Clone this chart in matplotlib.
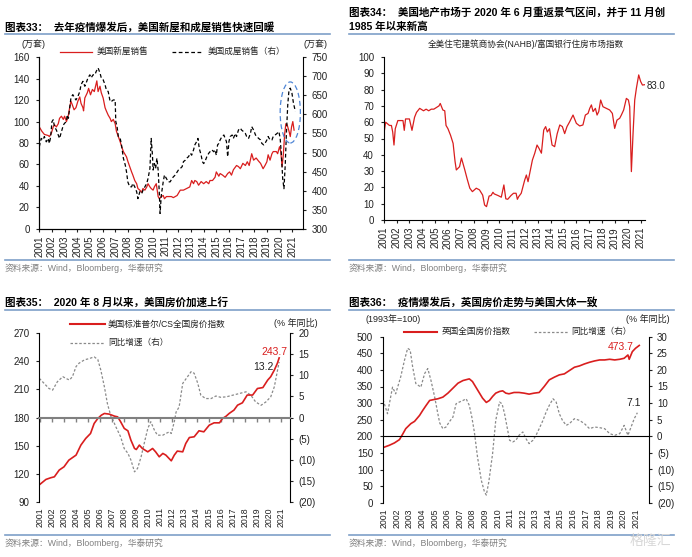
import numpy as np
import matplotlib
matplotlib.use('Agg')
import matplotlib.pyplot as plt
from matplotlib.patches import Ellipse
from matplotlib.lines import Line2D
from matplotlib.ticker import FuncFormatter

plt.rcParams['font.family'] = ['Liberation Sans', 'Noto Sans CJK SC', 'DejaVu Sans']

W, H = 692, 557
RED = '#D91E1E'
GREY = '#8A8A8A'
TXT = '#222222'
BLUE_LINE = '#7E9FC8'

years = list(range(2001, 2022))

# ---- chart 33: US new / existing home sales (万套) ----
nh_x = [2001.0, 2001.2, 2001.4, 2001.7, 2001.8, 2001.95, 2002.1, 2002.2, 2002.35, 2002.5, 2002.6,
        2002.75, 2002.9, 2003.0, 2003.15, 2003.3, 2003.4, 2003.5, 2003.6, 2003.75, 2003.9, 2004.05,
        2004.2, 2004.3, 2004.45, 2004.5, 2004.6, 2004.8, 2004.9, 2005.05, 2005.2, 2005.35, 2005.45,
        2005.55, 2005.65, 2005.8, 2005.9, 2006.05, 2006.2, 2006.3, 2006.45, 2006.6, 2006.7, 2006.85,
        2007.0, 2007.1, 2007.25, 2007.4, 2007.5, 2007.65, 2007.8, 2007.9, 2008.0, 2008.15, 2008.3,
        2008.4, 2008.55, 2008.7, 2008.8, 2008.95, 2009.1, 2009.2, 2009.35, 2009.5, 2009.6, 2009.75,
        2009.85, 2010.0, 2010.1, 2010.25, 2010.4, 2010.5, 2010.65, 2010.8, 2010.9, 2011.05, 2011.2,
        2011.45, 2011.6, 2011.9, 2012.15, 2012.4, 2012.65, 2012.9, 2013.05, 2013.2, 2013.3, 2013.45,
        2013.6, 2013.8, 2014.0, 2014.2, 2014.4, 2014.5, 2014.7, 2014.9, 2015.0, 2015.2, 2015.3,
        2015.5, 2015.7, 2015.9, 2016.05, 2016.2, 2016.35, 2016.6, 2016.75, 2016.9, 2017.1, 2017.3,
        2017.45, 2017.6, 2017.8, 2017.95, 2018.15, 2018.35, 2018.5, 2018.7, 2018.85, 2019.0, 2019.1,
        2019.25, 2019.4, 2019.5, 2019.75, 2019.85, 2020.0, 2020.1, 2020.2, 2020.3, 2020.4, 2020.5,
        2020.6, 2020.75, 2020.85, 2020.95, 2021.05, 2021.15]
nh_y = [95, 91, 88, 87, 86, 89, 95, 97, 95, 98, 103, 105, 102, 105, 100, 106, 113, 119, 116, 111,
        113, 119, 123, 117, 113, 110, 122, 127, 131, 125, 130, 128, 133, 138, 128, 133, 127, 122,
        113, 110, 106, 103, 100, 102, 98, 91, 86, 81, 77, 72, 69, 67, 63, 58, 53, 50, 45, 42, 37.5,
        36, 34, 37.5, 36, 39, 42, 39, 37.5, 36, 39, 42, 30, 28, 30, 31, 28, 30, 30, 30, 29, 31, 36,
        36, 37.5, 39, 45, 42, 45, 44, 40.6, 44, 42, 44, 42, 45, 45, 48, 53, 49, 51.5, 50, 48, 51.5,
        53, 50, 55, 59, 58, 56, 61, 59, 62.5, 59, 70, 64, 66, 63, 61, 56, 59, 62.5, 69, 64, 70, 72,
        72, 70, 76.5, 72, 58, 69, 87.5, 98, 97, 91, 86, 95, 100, 92]

eh_x = [2001.0, 2001.15, 2001.3, 2001.4, 2001.55, 2001.7, 2001.8, 2001.9, 2002.0, 2002.1, 2002.2,
        2002.35, 2002.5, 2002.6, 2002.75, 2002.9, 2003.0, 2003.15, 2003.2, 2003.3, 2003.4, 2003.5,
        2003.65, 2003.8, 2003.9, 2004.05, 2004.2, 2004.3, 2004.45, 2004.6, 2004.7, 2004.85, 2005.0,
        2005.1, 2005.25, 2005.4, 2005.5, 2005.65, 2005.8, 2005.9, 2006.05, 2006.2, 2006.3, 2006.45,
        2006.6, 2006.7, 2006.85, 2007.0, 2007.05, 2007.15, 2007.25, 2007.4, 2007.5, 2007.65, 2007.8,
        2007.9, 2008.0, 2008.15, 2008.3, 2008.4, 2008.55, 2008.7, 2008.8, 2008.95, 2009.1, 2009.2,
        2009.35, 2009.5, 2009.6, 2009.75, 2009.85, 2009.95, 2010.0, 2010.1, 2010.2, 2010.3, 2010.4,
        2010.5, 2010.55, 2010.65, 2010.8, 2010.9, 2011.05, 2011.2, 2011.35, 2011.5, 2011.6, 2011.75,
        2011.9, 2012.0, 2012.15, 2012.3, 2012.4, 2012.55, 2012.65, 2012.8, 2012.95, 2013.05, 2013.2,
        2013.3, 2013.45, 2013.55, 2013.65, 2013.8, 2013.9, 2014.0, 2014.1, 2014.25, 2014.4, 2014.5,
        2014.65, 2014.8, 2014.9, 2015.0, 2015.1, 2015.2, 2015.3, 2015.45, 2015.6, 2015.7, 2015.8,
        2015.9, 2016.0, 2016.1, 2016.25, 2016.35, 2016.5, 2016.6, 2016.75, 2016.9, 2017.0, 2017.15,
        2017.3, 2017.4, 2017.55, 2017.7, 2017.8, 2017.95, 2018.1, 2018.2, 2018.35, 2018.5, 2018.6,
        2018.75, 2018.85, 2019.0, 2019.1, 2019.25, 2019.4, 2019.5, 2019.65, 2019.8, 2019.95, 2020.05,
        2020.15, 2020.25, 2020.35, 2020.45, 2020.55, 2020.65, 2020.75, 2020.85, 2020.98, 2021.1,
        2021.25]
eh_y = [515, 537, 533, 542, 528, 537, 524, 542, 581, 586, 568, 559, 546, 537, 555, 572, 577, 581,
        599, 590, 616, 643, 652, 643, 638, 647, 660, 678, 687, 674, 682, 696, 704, 696, 704, 704,
        713, 722, 709, 696, 691, 678, 665, 660, 634, 634, 638, 638, 581, 568, 542, 537, 520, 485,
        467, 449, 423, 410, 410, 419, 410, 397, 379, 397, 392, 401, 410, 419, 432, 458, 537, 493,
        454, 471, 458, 485, 454, 388, 340, 388, 423, 441, 432, 423, 423, 432, 436, 441, 449, 454,
        458, 463, 476, 480, 485, 489, 498, 493, 507, 520, 529, 537, 511, 493, 476, 471, 476, 489,
        498, 502, 507, 502, 507, 493, 520, 524, 533, 542, 546, 537, 529, 489, 529, 542, 546, 537,
        550, 542, 559, 564, 559, 555, 550, 542, 537, 550, 568, 559, 546, 542, 537, 533, 524, 520,
        524, 533, 542, 533, 533, 542, 546, 550, 555, 537, 493, 432, 405, 467, 555, 625, 665, 669,
        656, 630, 608]

# ---- chart 34: NAHB housing market index ----
nahb_x = [2001.0, 2001.15, 2001.3, 2001.45, 2001.6, 2001.7, 2001.8, 2001.9, 2002.1, 2002.3, 2002.5,
          2002.6, 2002.7, 2002.85, 2003.0, 2003.2, 2003.4, 2003.55, 2003.7, 2003.8, 2004.1, 2004.3,
          2004.5, 2004.7, 2004.9, 2005.1, 2005.3, 2005.4, 2005.6, 2005.75, 2005.85, 2006.0, 2006.2,
          2006.4, 2006.55, 2006.65, 2006.9, 2007.05, 2007.3, 2007.5, 2007.7, 2007.9, 2008.2, 2008.45,
          2008.7, 2008.85, 2009.0, 2009.2, 2009.35, 2009.5, 2009.6, 2009.9, 2010.15, 2010.35, 2010.5,
          2010.65, 2010.9, 2011.1, 2011.3, 2011.4, 2011.5, 2011.7, 2011.97, 2012.1, 2012.23, 2012.36,
          2012.57, 2012.75, 2012.93, 2013.08, 2013.27, 2013.45, 2013.6, 2013.73, 2013.9, 2014.1,
          2014.3, 2014.5, 2014.7, 2014.9, 2015.08, 2015.26, 2015.47, 2015.73, 2015.99, 2016.25,
          2016.5, 2016.69, 2016.9, 2017.03, 2017.16, 2017.29, 2017.47, 2017.6, 2017.73, 2017.88,
          2018.06, 2018.32, 2018.58, 2018.79, 2018.97, 2019.15, 2019.36, 2019.49, 2019.67, 2019.88,
          2020.04, 2020.14, 2020.27, 2020.4, 2020.53, 2020.66, 2020.84, 2020.99, 2021.13, 2021.3]
nahb_y = [52, 60, 59, 58, 58, 54, 46, 56, 61, 61, 61, 55, 62, 62, 62, 55, 63, 66, 67.5, 68.5, 67,
          68, 67, 68, 68, 69, 70, 71.5, 67.5, 67, 58, 56, 52, 47, 36, 30.7, 32.7, 38, 31, 25, 19.5,
          17.4, 19.5, 18.5, 15.3, 9.2, 8.2, 14.7, 15, 17, 16, 15, 14, 21.5, 13, 12.7, 15, 16.4, 16.4,
          12.7, 14.3, 16.4, 24.5, 27.6, 23.5, 28.6, 36.8, 40.9, 46, 44, 41, 55.2, 57.3, 54, 56, 46,
          45, 53, 58.3, 57.3, 53, 57.3, 60.3, 64.4, 59.3, 57.7, 58.3, 64.4, 65.4, 68.5, 70.6, 66.5,
          68.5, 64.4, 66.5, 73.6, 69.5, 68.5, 67.5, 65.4, 56.2, 61.3, 62.4, 64.4, 67.5, 74.6, 73.6,
          69.5, 29.7, 53, 73.6, 80.8, 89, 85, 82.8, 83]

# ---- chart 35: S&P/Case-Shiller national index and YoY ----
cs_x = [2000.95, 2001.5, 2001.9, 2002.2, 2002.6, 2003.0, 2003.4, 2004.0, 2004.4, 2004.8, 2005.2,
        2005.5, 2005.8, 2006.1, 2006.35, 2006.75, 2007.2, 2007.45, 2007.7, 2008.0, 2008.3, 2008.55,
        2008.85, 2009.0, 2009.25, 2009.5, 2009.95, 2010.35, 2010.6, 2010.9, 2011.2, 2011.45, 2011.9,
        2012.15, 2012.4, 2012.85, 2013.1, 2013.4, 2013.8, 2014.2, 2014.6, 2015.05, 2015.45, 2015.9,
        2016.15, 2016.45, 2016.7, 2017.1, 2017.4, 2017.8, 2018.2, 2018.65, 2019.05, 2019.5, 2019.9,
        2020.15, 2020.45, 2020.7, 2020.85]
cs_y = [108, 113.8, 115.6, 116.6, 123.8, 127.3, 134.4, 139.8, 150.5, 157.6, 162.9, 173.6, 178.9,
        182.5, 184.3, 183.6, 181.4, 180.7, 175.4, 168.3, 165.8, 155.8, 146.9, 145.8, 150.5, 146.9,
        143.3, 146.9, 143.3, 138, 141.6, 139.8, 133.7, 139.8, 144.1, 143.3, 152.2, 158.6, 159.4,
        165.8, 164.7, 171.8, 174.3, 174.3, 178.9, 181.4, 184.3, 187.9, 193.2, 195.7, 204, 204, 211,
        212, 220, 223.6, 230.7, 237.9, 243.7]
cs_yoy_x = [2000.95, 2001.35, 2001.75, 2002.05, 2002.45, 2002.9, 2003.15, 2003.45, 2003.7, 2004.0,
            2004.25, 2004.7, 2005.1, 2005.5, 2005.8, 2006.05, 2006.35, 2006.6, 2006.9, 2007.0,
            2007.3, 2007.7, 2008.0, 2008.3, 2008.55, 2008.85, 2009.1, 2009.4, 2009.65, 2009.95,
            2010.2, 2010.5, 2010.75, 2011.2, 2011.45, 2011.75, 2011.9, 2012.15, 2012.3, 2012.55,
            2012.85, 2013.25, 2013.55, 2013.8, 2014.1, 2014.35, 2014.75, 2015.2, 2015.6, 2016.0,
            2016.45, 2017.0, 2017.55, 2018.1, 2018.5, 2018.9, 2019.35, 2019.75, 2020.15, 2020.45,
            2020.85]
cs_yoy_y = [9.3, 8.1, 6.9, 6.5, 8.5, 9.7, 9.3, 8.9, 9.7, 12.1, 12.9, 13.7, 14.0, 14.4, 13.8, 11.3,
            7.3, 3.3, 0.2, -0.2, -2.2, -4.6, -7.4, -8.5, -10.1, -12.9, -12.1, -9.3, -6.2, -2.6,
            -1.0, -3.0, -4.2, -4.2, -3.8, -3.4, -3.8, -1.0, 1.3, 2.5, 8.1, 9.7, 10.9, 10.5, 8.1, 5.3,
            4.5, 4.5, 5.1, 4.8, 4.9, 5.3, 5.7, 6.1, 5.3, 3.7, 2.9, 3.7, 4.9, 7.3, 13.2]

# ---- chart 36: UK Nationwide house price index and YoY ----
uk_x = [2000.9, 2001.4, 2001.8, 2002.2, 2002.45, 2002.7, 2003.1, 2003.4, 2003.8, 2004.05, 2004.3,
        2004.6, 2004.85, 2005.25, 2005.65, 2006.05, 2006.45, 2006.85, 2007.25, 2007.75, 2008.0,
        2008.4, 2008.8, 2009.1, 2009.35, 2009.6, 2009.85, 2010.15, 2010.4, 2010.65, 2010.9, 2011.3,
        2011.7, 2012.1, 2012.5, 2012.9, 2013.3, 2013.7, 2014.1, 2014.5, 2014.9, 2015.3, 2015.7,
        2016.1, 2016.5, 2016.9, 2017.3, 2017.7, 2018.1, 2018.5, 2018.9, 2019.3, 2019.7, 2020.05,
        2020.35, 2020.45, 2020.7, 2020.95, 2021.25]
uk_y = [166, 173, 180, 190, 206, 223, 238, 245, 263, 278, 292, 308, 310, 313, 318, 330, 345, 360,
        368, 373, 365, 340, 315, 302, 308, 320, 330, 335, 337, 330, 328, 332, 332, 330, 327, 330,
        332, 350, 370, 378, 385, 388, 398, 408, 412, 418, 423, 427, 430, 430, 432, 430, 432, 435,
        445, 432, 455, 465, 473.7]
uk_yoy_x = [2000.9, 2001.25, 2001.65, 2001.9, 2002.3, 2002.6, 2002.85, 2003.05, 2003.25, 2003.5,
            2003.9, 2004.2, 2004.45, 2004.7, 2005.0, 2005.25, 2005.4, 2005.65, 2005.9, 2006.15,
            2006.45, 2006.7, 2006.95, 2007.25, 2007.5, 2007.75, 2007.95, 2008.15, 2008.4, 2008.7,
            2008.95, 2009.1, 2009.3, 2009.6, 2009.85, 2010.15, 2010.35, 2010.55, 2010.65, 2010.95,
            2011.2, 2011.45, 2011.7, 2012.0, 2012.25, 2012.5, 2012.8, 2013.05, 2013.3, 2013.6,
            2013.85, 2014.1, 2014.4, 2014.65, 2014.9, 2015.15, 2015.45, 2015.7, 2016.1, 2016.5,
            2016.9, 2017.3, 2017.7, 2018.1, 2018.5, 2018.9, 2019.3, 2019.7, 2020.05, 2020.35,
            2020.6, 2020.85, 2021.1]
uk_yoy_y = [11, 6.8, 14.8, 12.8, 17.9, 22.9, 26.5, 26, 20.9, 15.9, 14.8, 18.9, 20.4, 16.9, 11.8,
            6.8, 4.0, 2.3, 2.8, 4.3, 5.8, 9.8, 10.3, 10.8, 11.3, 9.3, 5.8, 1.3, -6.2, -13.2, -16.7,
            -17.7, -13.7, -5.2, 4.8, 10.3, 9.8, 6.8, 4.8, -1.2, -1.7, -1.2, 0.3, 1.3, -0.7, -2.2,
            -1.2, 0.3, 2.3, 4.8, 7.3, 9.3, 11.3, 10.3, 6.8, 4.8, 3.3, 3.8, 5.3, 4.8, 3.8, 2.3, 2.8,
            2.6, 2.3, 0.8, 0.3, 0.8, 3.3, 0.3, 2.8, 5.3, 7.1]


def axes_px(fig, left, right, top, bottom):
    return fig.add_axes([left / W, 1 - bottom / H, (right - left) / W, (bottom - top) / H])


def ftext(fig, x, y, s, **kw):
    fig.text(x / W, 1 - y / H, s, **kw)


def fline(fig, x0, x1, y, color=BLUE_LINE, lw=1.2, ls='-'):
    fig.add_artist(Line2D([x0 / W, x1 / W], [1 - y / H, 1 - y / H], color=color, lw=lw, ls=ls,
                          transform=fig.transFigure))


def paren(v, pos):
    v = int(round(v))
    return '(%d)' % abs(v) if v < 0 else '%d' % v


def year_ticks(ax):
    ax.set_xticks(years)
    ax.set_xticklabels([str(y) for y in years], rotation=90, fontsize=6.3, color=TXT)


def frame(fig, x0, x1, ytitle_line, ybottom_line, ysrc):
    fline(fig, x0, x1, ytitle_line)
    fline(fig, x0, x1, ybottom_line)
    ftext(fig, x0, ysrc, '资料来源：Wind，Bloomberg，华泰研究', fontsize=6.3, color='#808080',
          va='center', ha='left')


fig = plt.figure(figsize=(W / 100, H / 100), dpi=100)
fig.patch.set_facecolor('white')
tkw = dict(direction='out', length=2.5, width=0.8, colors=TXT, labelsize=7)
DOT = (0, (2, 1.5))

# ================= chart 33 =================
ftext(fig, 5, 27, '图表33：  去年疫情爆发后，美国新屋和成屋销售快速回暖', fontsize=7.6,
      fontweight='bold', va='center')
frame(fig, 5, 330, 33.5, 260, 268.5)
ax1 = axes_px(fig, 39.3, 303.3, 57.3, 228.7)
ax1.plot(nh_x, nh_y, color=RED, lw=0.9)
ax1.set_xlim(2001, 2021.88)
ax1.set_ylim(0, 160)
ax1.set_yticks(range(0, 161, 20))
year_ticks(ax1)
ax1.tick_params(axis='y', pad=4.5, **tkw)
ax1.tick_params(axis='x', pad=2.5, **tkw)
ax1.spines['top'].set_visible(False)
ax1.spines['right'].set_visible(False)
ax1r = ax1.twinx()
ax1r.plot(eh_x, eh_y, color='black', lw=0.9, ls=(0, (3, 2)))
ax1r.set_ylim(300, 750)
ax1r.set_yticks(range(300, 751, 50))
ax1r.tick_params(axis='y', pad=3.5, **tkw)
ax1r.spines['top'].set_visible(False)
for a in (ax1, ax1r):
    for s in a.spines.values():
        s.set_linewidth(0.8)
# highlight of the post-covid rebound
ax1r.add_patch(Ellipse((2020.85, 108.5), 1.6, 57, fill=False, edgecolor='#4F86D6', lw=0.9,
                       ls=(0, (4, 2.5)), transform=ax1.transData, clip_on=False, zorder=5))
ftext(fig, 33, 44.5, '(万套)', fontsize=6.5, ha='center', va='center', color=TXT)
ftext(fig, 316, 44.5, '(万套)', fontsize=6.5, ha='center', va='center', color=TXT)
fline(fig, 60, 92, 51.7, color=RED, lw=0.9)
ftext(fig, 97, 51.7, '美国新屋销售', fontsize=6.2, va='center', color=TXT)
fline(fig, 172, 202, 51.7, color='black', lw=0.9, ls=(0, (3, 2)))
ftext(fig, 208, 51.7, '美国成屋销售（右）', fontsize=6.2, va='center', color=TXT)

# ================= chart 34 =================
ftext(fig, 349, 12.3, '图表34：  美国地产市场于 2020 年 6 月重返景气区间，并于 11 月创',
      fontsize=7.6, fontweight='bold', va='center')
ftext(fig, 349, 26.7, '1985 年以来新高', fontsize=7.6, fontweight='bold', va='center')
frame(fig, 349, 674, 33.5, 260, 268.5)
ftext(fig, 526, 44.5, '全美住宅建筑商协会(NAHB)/富国银行住房市场指数', fontsize=6.2,
      ha='center', va='center', color=TXT)
ax2 = axes_px(fig, 383.7, 645, 57, 220)
ax2.plot(nahb_x, nahb_y, color=RED, lw=0.9)
ax2.set_xlim(2001, 2021.33)
ax2.set_ylim(0, 100)
ax2.set_yticks(range(0, 101, 10))
year_ticks(ax2)
ax2.tick_params(axis='y', pad=4.5, **tkw)
ax2.tick_params(axis='x', pad=2.5, **tkw)
for s in ('top', 'right'):
    ax2.spines[s].set_visible(False)
for s in ax2.spines.values():
    s.set_linewidth(0.8)
ftext(fig, 656, 86, '%.1f' % nahb_y[-1], fontsize=7, ha='center', va='center', color=TXT)

# ================= chart 35 =================
ftext(fig, 5, 302.7, '图表35：  2020 年 8 月以来，美国房价加速上行', fontsize=7.6,
      fontweight='bold', va='center')
frame(fig, 5, 330, 309.5, 535, 543.3)
ax3 = axes_px(fig, 39.3, 290, 333.3, 501.7)
ax3r = ax3.twinx()
ax3.set_zorder(ax3r.get_zorder() + 1)
ax3.patch.set_visible(False)
ax3r.plot(cs_yoy_x, cs_yoy_y, color=GREY, lw=0.9, ls=DOT)
ax3.plot(cs_x, cs_y, color=RED, lw=1.2)
ax3.set_xlim(2000.95, 2021.75)
ax3.set_ylim(90, 270)
ax3.set_yticks(range(90, 271, 30))
ax3r.set_ylim(-20, 20)
ax3r.set_yticks(range(-20, 21, 5))
ax3r.yaxis.set_major_formatter(FuncFormatter(paren))
ax3.spines['bottom'].set_position(('data', 180))
ax3.spines['bottom'].set_color('#808080')
ax3.spines['bottom'].set_linewidth(1.5)
ax3.set_xticks(years)
ax3.tick_params(axis='x', direction='out', length=3, width=1, colors='#808080', labelbottom=False)
ax3.tick_params(axis='y', pad=4.5, **tkw)
ax3r.tick_params(axis='y', pad=3.5, **tkw)
for a in (ax3, ax3r):
    a.spines['top'].set_visible(False)
ax3.spines['right'].set_visible(False)
ax3r.spines['bottom'].set_visible(False)
ax3r.spines['left'].set_visible(False)
sec3 = ax3.secondary_xaxis(0)
year_ticks(sec3)
sec3.tick_params(axis='x', length=0, pad=4)
sec3.spines['bottom'].set_visible(False)
ftext(fig, 296, 322.7, '(% 年同比)', fontsize=6.5, ha='center', va='center', color=TXT)
fline(fig, 70, 105, 324.3, color=RED, lw=1.5)
ftext(fig, 108, 324.3, '美国标准普尔/CS全国房价指数', fontsize=6.2, va='center', color=TXT)
fline(fig, 70, 105, 342.7, color=GREY, lw=0.9, ls=DOT)
ftext(fig, 108, 342.7, '同比增速（右）', fontsize=6.2, va='center', color=TXT)
ftext(fig, 274, 351.7, '%.1f' % cs_y[-1], fontsize=7.5, ha='center', va='center', color=RED)
ftext(fig, 263, 367.3, '%.1f' % cs_yoy_y[-1], fontsize=7.5, ha='center', va='center', color=TXT)

# ================= chart 36 =================
ftext(fig, 349, 302.7, '图表36：  疫情爆发后，英国房价走势与美国大体一致', fontsize=7.6,
      fontweight='bold', va='center')
frame(fig, 349, 674, 309.5, 535, 543.3)
ax4 = axes_px(fig, 382.7, 648.7, 336.7, 502.7)
ax4r = ax4.twinx()
ax4.set_zorder(ax4r.get_zorder() + 1)
ax4.patch.set_visible(False)
ax4r.plot(uk_yoy_x, uk_yoy_y, color=GREY, lw=0.9, ls=DOT)
ax4.plot(uk_x, uk_y, color=RED, lw=1.2)
ax4.axhline(200, color='black', lw=0.8)
ax4.set_xlim(2000.87, 2022.0)
ax4.set_ylim(0, 500)
ax4.set_yticks(range(0, 501, 50))
ax4r.set_ylim(-20, 30)
ax4r.set_yticks(range(-20, 31, 5))
ax4r.yaxis.set_major_formatter(FuncFormatter(paren))
year_ticks(ax4)
ax4.tick_params(axis='x', length=0, pad=4)
ax4.tick_params(axis='y', pad=4.5, **tkw)
ax4r.tick_params(axis='y', pad=3.5, **tkw)
for a in (ax4, ax4r):
    a.spines['top'].set_visible(False)
    a.spines['bottom'].set_visible(False)
ax4.spines['right'].set_visible(False)
ax4r.spines['left'].set_visible(False)
ftext(fig, 393, 319.3, '(1993年=100)', fontsize=6.5, ha='center', va='center', color=TXT)
ftext(fig, 648, 319.3, '(% 年同比)', fontsize=6.5, ha='center', va='center', color=TXT)
fline(fig, 404, 437, 331.7, color=RED, lw=1.5)
ftext(fig, 442, 331.7, '英国全国房价指数', fontsize=6.2, va='center', color=TXT)
fline(fig, 534, 568, 331.7, color=GREY, lw=0.9, ls=DOT)
ftext(fig, 571, 331.7, '同比增速（右）', fontsize=6.2, va='center', color=TXT)
ftext(fig, 621, 346.7, '%.1f' % uk_y[-1], fontsize=7.5, ha='center', va='center', color=RED)
ftext(fig, 634, 403.3, '%.1f' % uk_yoy_y[-1], fontsize=7.5, ha='center', va='center', color=TXT)

# watermark
ftext(fig, 650, 541, '格隆汇', fontsize=10, ha='center', va='center', color='#D8D8D8')

fig.savefig('out.png', dpi=100)
